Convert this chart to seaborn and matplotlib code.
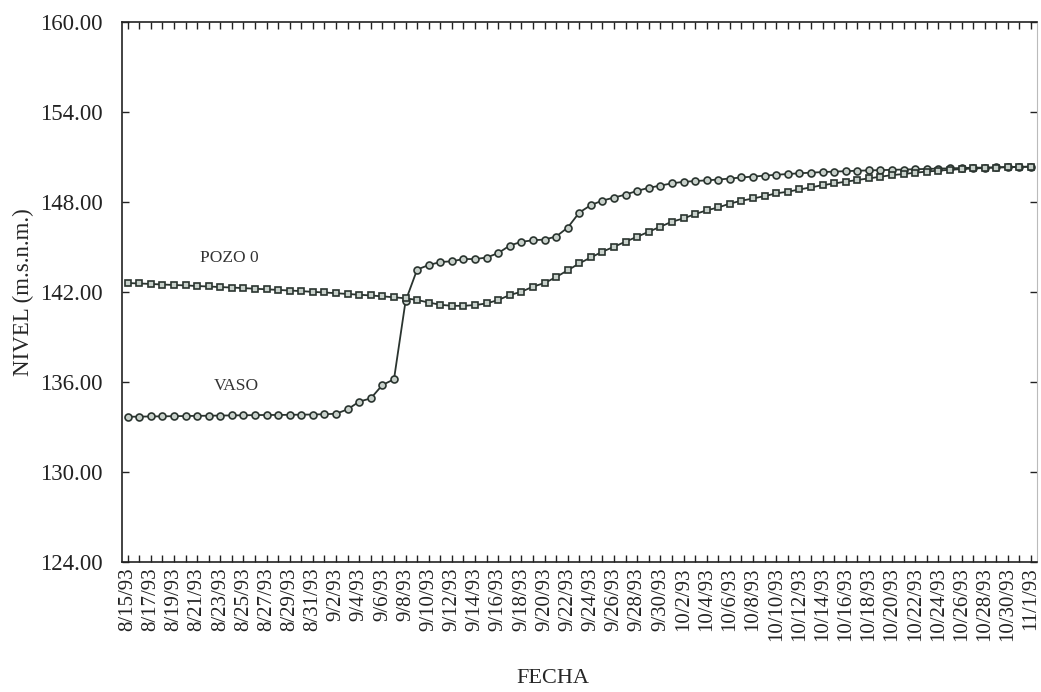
import matplotlib
matplotlib.use("Agg")
import matplotlib.pyplot as plt
import seaborn as sns
import numpy as np
import pandas as pd

# fechas diarias 8/15/93 .. 11/1/93
fechas = pd.date_range("1993-08-15", "1993-11-01", freq="D")
etiquetas = [f"{d.month}/{d.day}/{d.year % 100:02d}" for d in fechas]

# nivel en el vaso (m.s.n.m.)
vaso = [133.68, 133.69, 133.70, 133.71, 133.72, 133.73, 133.74, 133.75, 133.76, 133.77,
        133.78, 133.79, 133.80, 133.80, 133.81, 133.82, 133.83, 133.85, 133.88, 134.18,
        134.69, 134.91, 135.80, 136.18, 141.40, 143.50, 143.80, 144.00, 144.05, 144.20,
        144.20, 144.30, 144.60, 145.10, 145.35, 145.45, 145.50, 145.70, 146.30, 147.30,
        147.80, 148.10, 148.30, 148.50, 148.75, 148.95, 149.10, 149.25, 149.35, 149.40,
        149.45, 149.50, 149.57, 149.64, 149.70, 149.76, 149.82, 149.87, 149.92, 149.96,
        150.00, 150.03, 150.06, 150.09, 150.11, 150.13, 150.15, 150.17, 150.19, 150.21,
        150.23, 150.25, 150.27, 150.29, 150.30, 150.32, 150.34, 150.35, 150.36]

# nivel en el pozo 0
pozo0 = [142.60, 142.57, 142.54, 142.50, 142.47, 142.44, 142.40, 142.37, 142.33, 142.30,
         142.26, 142.22, 142.18, 142.14, 142.10, 142.06, 142.01, 141.97, 141.92, 141.87,
         141.82, 141.77, 141.71, 141.65, 141.58, 141.47, 141.30, 141.15, 141.08, 141.08,
         141.13, 141.24, 141.47, 141.80, 142.02, 142.36, 142.60, 143.00, 143.45, 143.91,
         144.31, 144.69, 145.02, 145.36, 145.69, 146.02, 146.36, 146.69, 146.91, 147.20,
         147.45, 147.64, 147.90, 148.09, 148.24, 148.40, 148.58, 148.69, 148.84, 148.98,
         149.13, 149.24, 149.36, 149.47, 149.58, 149.69, 149.80, 149.87, 149.96, 150.03,
         150.10, 150.15, 150.20, 150.24, 150.27, 150.30, 150.32, 150.34, 150.36]

yticks = [124, 130, 136, 142, 148, 154, 160]

sns.set_style("white")
plt.rcParams["font.family"] = ["Liberation Serif", "DejaVu Serif"]

fig = plt.figure(figsize=(10.41, 6.92), dpi=100)
ax = fig.add_axes([0.117, 0.188, 0.879, 0.780])

x = np.arange(len(fechas))
linea = "#2a342f"
relleno = "#c9d2cc"

sns.lineplot(x=x, y=vaso, ax=ax, color=linea, lw=1.3, marker="o", markersize=5,
             markerfacecolor=relleno, markeredgecolor=linea, markeredgewidth=1.2)
sns.lineplot(x=x, y=pozo0, ax=ax, color=linea, lw=1.3, marker="s", markersize=4.6,
             markerfacecolor=relleno, markeredgecolor=linea, markeredgewidth=1.2)

ax.text(8.8, 144.3, "POZO 0", fontsize=12.5, ha="center", va="center", color="#333333")
ax.text(9.4, 135.75, "VASO", fontsize=12.5, ha="center", va="center", color="#333333")

ax.set_xlim(-0.5, len(fechas) - 0.5)
ax.set_ylim(124, 160)
ax.set_yticks(yticks)
ax.set_yticklabels([f"{v:.2f}" for v in yticks], fontsize=16.5)
ax.set_xticks(x[::2])
ax.set_xticklabels(etiquetas[::2], rotation=90, fontsize=15)
ax.set_xticks(x, minor=True)

ax.tick_params(axis="y", which="major", direction="in", length=5, width=1,
               left=True, right=True, pad=14, colors="#222222")
ax.tick_params(axis="x", which="both", direction="in", length=5, width=1,
               bottom=True, top=True, pad=4, colors="#222222")

for lado in ["left", "bottom", "top"]:
    ax.spines[lado].set_color("#222222")
    ax.spines[lado].set_linewidth(1.2)
ax.spines["right"].set_color("#bbbbbb")
ax.spines["right"].set_linewidth(0.8)

ax.set_ylabel("NIVEL (m.s.n.m.)", fontsize=16.5, labelpad=4)
fig.text(0.531, 0.02, "FECHA", fontsize=16, ha="center", va="center")

plt.savefig("out.png", dpi=100)
